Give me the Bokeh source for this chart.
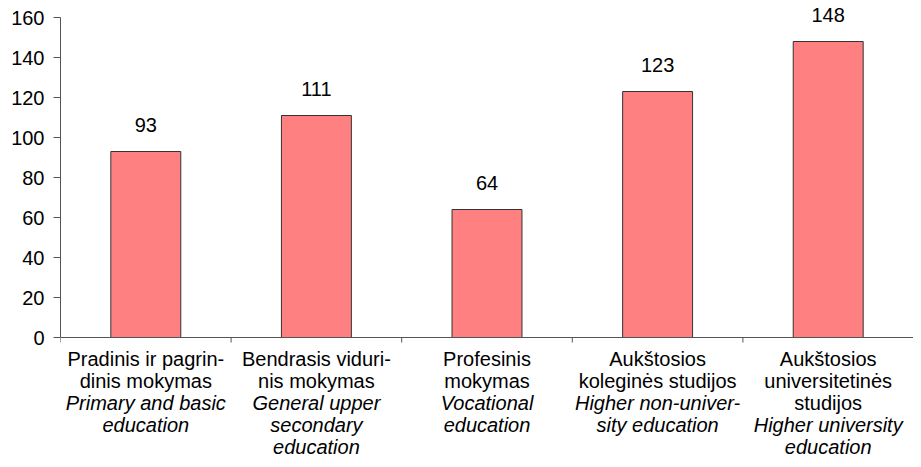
from bokeh.plotting import figure
from bokeh.models import Range1d, FixedTicker, Label, ColumnDataSource, LabelSet, Span
from bokeh.core.properties import value
from bokeh.embed import file_html
from bokeh.resources import INLINE

# ---- data ----
lt_labels = [
    "Pradinis ir pagrin-\ndinis mokymas",
    "Bendrasis viduri-\nnis mokymas",
    "Profesinis\nmokymas",
    "Aukštosios\nkoleginės studijos",
    "Aukštosios\nuniversitetinės\nstudijos",
]
en_labels = [
    "Primary and basic\neducation",
    "General upper\nsecondary\neducation",
    "Vocational\neducation",
    "Higher non-univer-\nsity education",
    "Higher university\neducation",
]
values = [93, 111, 64, 123, 148]
y_ticks = [0, 20, 40, 60, 80, 100, 120, 140, 160]

FONT = "Liberation Sans"
FS = "20px"
AX = "#555555"

n = len(values)
xs = [i + 0.5 for i in range(n)]
bounds = list(range(n + 1))

p = figure(width=913, height=459, output_backend="svg", toolbar_location=None,
           x_range=Range1d(0, n), y_range=Range1d(-61, 168.5),
           x_axis_location=None,
           min_border_left=60, min_border_right=0, min_border_top=0, min_border_bottom=0)
p.outline_line_color = None
p.background_fill_color = "white"
p.border_fill_color = "white"
p.xgrid.visible = False
p.ygrid.visible = False

src = ColumnDataSource(dict(x=xs, top=values, txt=[str(v) for v in values]))
p.vbar(x="x", top="top", width=0.41, source=src, fill_color="#FF8080",
       line_color="#333333", line_width=1)

p.add_layout(LabelSet(x="x", y="top", text="txt", source=src, y_offset=27,
                      text_align="center", text_baseline="middle",
                      text_font=value(FONT), text_font_size=value(FS),
                      text_color="black"))

# y axis limited to 0..160
p.yaxis.bounds = (0, 160)
p.yaxis.ticker = FixedTicker(ticks=y_ticks)
p.yaxis.minor_tick_line_color = None
p.yaxis.major_tick_in = 0
p.yaxis.major_tick_out = 7
p.yaxis.major_label_standoff = 9
p.yaxis.major_label_text_font = FONT
p.yaxis.major_label_text_font_size = FS
p.yaxis.major_label_text_color = "black"
p.yaxis.axis_line_color = AX
p.yaxis.major_tick_line_color = AX

# x axis line at 0 with boundary ticks
p.add_layout(Span(location=0, dimension="width", line_color=AX, line_width=1))
p.segment(x0=bounds, y0=[0] * len(bounds), x1=bounds, y1=[-2.5] * len(bounds),
          line_color=AX, line_width=1)

# category labels
first = 21
step = 22.2
for i in range(n):
    lines = [(t, "normal") for t in lt_labels[i].split("\n")] + \
            [(t, "italic") for t in en_labels[i].split("\n")]
    for k, (t, style) in enumerate(lines):
        p.add_layout(Label(x=xs[i], y=0, y_offset=-(first + step * k), text=t,
                           text_align="center", text_baseline="middle",
                           text_font=FONT, text_font_size=FS,
                           text_font_style=style, text_color="black"))

open("out.html", "w").write(file_html(p, INLINE))
